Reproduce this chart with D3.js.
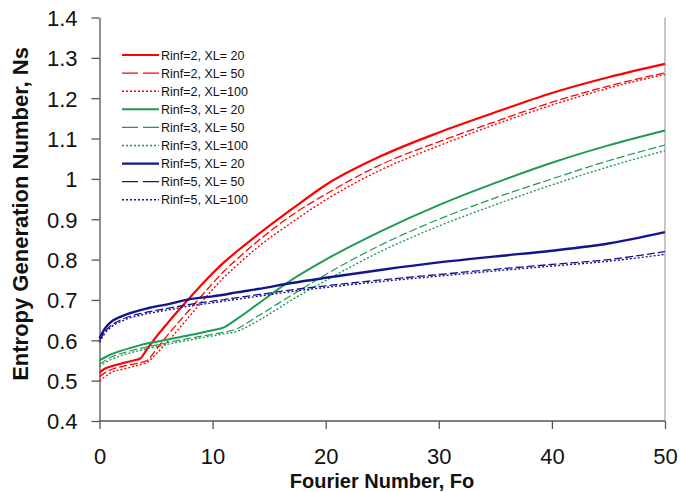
<!DOCTYPE html>
<html><head><meta charset="utf-8">
<script src="https://cdn.jsdelivr.net/npm/d3@7"></script>
<style>body{margin:0;background:#fff}svg{display:block}text{font-family:"Liberation Sans",Arial,sans-serif}</style>
</head><body><svg id="c" width="680" height="492"></svg>
<script>
const fo = [0,0.5,1,2,3,3.6,4.2,5,6,8,10,11,12,14,17,20,25,30,35,40,45,50];
const r2x20  = [0.52,0.53,0.535,0.543,0.55,0.555,0.578,0.608,0.642,0.706,0.766,0.793,0.817,0.862,0.925,0.985,1.058,1.115,1.165,1.213,1.252,1.285];
const r2x50  = [0.51,0.52,0.527,0.535,0.541,0.545,0.55,0.577,0.612,0.677,0.741,0.771,0.797,0.846,0.91,0.962,1.037,1.092,1.142,1.19,1.23,1.263];
const r2x100 = [0.50,0.51,0.52,0.528,0.535,0.54,0.545,0.566,0.596,0.661,0.726,0.756,0.782,0.831,0.892,0.948,1.024,1.082,1.135,1.183,1.225,1.259];
const r3x20  = [0.55,0.558,0.565,0.575,0.583,0.588,0.592,0.596,0.602,0.613,0.625,0.632,0.65,0.69,0.75,0.80,0.872,0.935,0.99,1.04,1.083,1.12];
const r3x50  = [0.54,0.55,0.558,0.568,0.576,0.58,0.584,0.588,0.594,0.605,0.615,0.62,0.627,0.66,0.712,0.763,0.838,0.90,0.953,1.0,1.045,1.084];
const r3x100 = [0.535,0.545,0.552,0.563,0.571,0.575,0.579,0.584,0.59,0.601,0.611,0.616,0.621,0.648,0.70,0.748,0.822,0.883,0.936,0.985,1.03,1.07];
const r5x20  = [0.605,0.63,0.645,0.66,0.67,0.675,0.679,0.684,0.689,0.702,0.709,0.713,0.718,0.727,0.742,0.755,0.775,0.793,0.808,0.822,0.84,0.868];
const r5x50  = [0.60,0.622,0.636,0.652,0.662,0.666,0.67,0.674,0.679,0.689,0.697,0.701,0.705,0.713,0.725,0.735,0.75,0.763,0.776,0.788,0.8,0.82];
const r5x100 = [0.595,0.618,0.632,0.648,0.658,0.662,0.666,0.670,0.675,0.685,0.693,0.697,0.701,0.709,0.721,0.731,0.746,0.759,0.772,0.784,0.796,0.813];
const seriesNames = ["Rinf=2, XL= 20","Rinf=2, XL= 50","Rinf=2, XL=100","Rinf=3, XL= 20","Rinf=3, XL= 50","Rinf=3, XL=100","Rinf=5, XL= 20","Rinf=5, XL= 50","Rinf=5, XL=100"];
const seriesValues = [r2x20,r2x50,r2x100,r3x20,r3x50,r3x100,r5x20,r5x50,r5x100];
const xTicks = [0,10,20,30,40,50];
const yTicks = [0.4,0.5,0.6,0.7,0.8,0.9,1,1.1,1.2,1.3,1.4];
const yTickLabels = ["0.4","0.5","0.6","0.7","0.8","0.9","1","1.1","1.2","1.3","1.4"];
const xTitle = "Fourier Number, Fo";
const yTitle = "Entropy Generation Number, Ns";

const colors = ["#ff0000","#ff0000","#ff0000","#1f9a52","#1f9a52","#1f9a52","#14148c","#14148c","#14148c"];
const widths = [2.2,1.3,1.4,2.0,1.2,1.4,2.4,1.3,1.4];
const dashPlot = [null,"8,3","2,2",null,"8,3","2,2",null,"8,3","2,2"];
const dashLeg = [null,"16,5","2,2",null,"16,5","2,2",null,"16,5","2,2"];

const svg = d3.select("#c");
const x = d3.scaleLinear().domain([0,50]).range([99.5,665]);
const y = d3.scaleLinear().domain([0.4,1.4]).range([421,17.5]);

// right border
svg.append("line").attr("x1",665).attr("x2",665).attr("y1",17.5).attr("y2",421)
  .attr("stroke","#b4b4b4").attr("stroke-width",1.5);

// axes
const xAxis = svg.append("g").attr("transform","translate(0,421)")
  .call(d3.axisBottom(x).tickValues(xTicks).tickSize(8).tickSizeOuter(0).tickPadding(19));
const yAxis = svg.append("g").attr("transform","translate(99.5,0)")
  .call(d3.axisLeft(y).tickValues(yTicks).tickFormat((d,i)=>yTickLabels[i]).tickSize(8).tickSizeOuter(0).tickPadding(14));
[xAxis,yAxis].forEach(a=>{
  a.select(".domain").attr("stroke","#555").attr("stroke-width",1.3);
  a.selectAll(".tick line").attr("stroke","#555").attr("stroke-width",1.3);
  a.selectAll("text").attr("fill","#111").style("font-size","22px").style("font-family","'Liberation Sans',Arial,sans-serif");
});
yAxis.selectAll("text").attr("dy","0.36em");
xAxis.select(".domain").attr("d","M99.5,0H665");

// lines
const line = d3.line().x((d,i)=>x(fo[i])).y(d=>y(d)).curve(d3.curveMonotoneX);
seriesValues.forEach((vals,k)=>{
  svg.append("path").datum(vals).attr("d",line).attr("fill","none")
    .attr("stroke",colors[k]).attr("stroke-width",widths[k])
    .attr("stroke-dasharray",dashPlot[k]);
});

// legend
const leg = svg.append("g");
seriesNames.forEach((n,k)=>{
  const yy = 55 + k*18.1;
  leg.append("line").attr("x1",122).attr("x2",159).attr("y1",yy).attr("y2",yy)
    .attr("stroke",colors[k]).attr("stroke-width",widths[k]).attr("stroke-dasharray",dashLeg[k]);
  leg.append("text").attr("x",161).attr("y",yy).attr("dy","0.36em")
    .style("font-size","12.5px").attr("fill","#111").text(n);
});

// titles
svg.append("text").attr("x",382).attr("y",487.5).attr("text-anchor","middle")
  .style("font-size","20px").style("font-weight","bold").attr("fill","#111").text(xTitle);
svg.append("text").attr("transform","translate(28,214) rotate(-90)").attr("text-anchor","middle")
  .style("font-size","22px").style("font-weight","bold").attr("fill","#111").text(yTitle);
</script></body></html>
